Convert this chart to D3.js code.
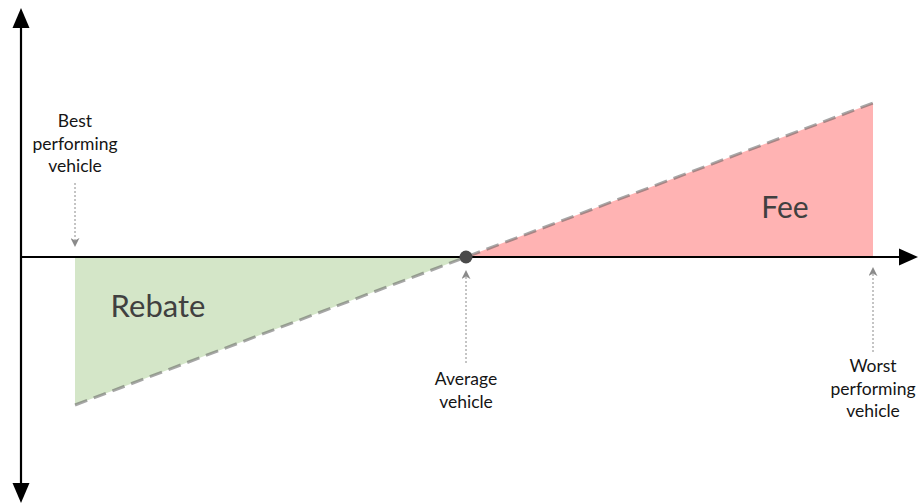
<!DOCTYPE html>
<html>
<head>
<meta charset="utf-8">
<script src="https://cdn.jsdelivr.net/npm/d3@7"></script>
<style>
  html, body { margin: 0; padding: 0; background: #fff; }
  svg { display: block; }
  text { font-family: Lato, "Open Sans", sans-serif; }
</style>
</head>
<body>
<svg id="chart" width="920" height="504"></svg>
<script>
// Vehicle performance relative to the fleet average, and the resulting charge
const vehicles = ["Best performing vehicle", "Average vehicle", "Worst performing vehicle"];
const performance = [-3.91, 0, 4.07];   // deviation from average
const charge = [-1.48, 0, 1.54];        // rebate (negative) / fee (positive)
const areaLabels = ["Rebate", "Fee"];

const svg = d3.select("#chart");
const x = d3.scaleLinear().domain([-4.45, 4.52]).range([21, 918]);
const y = d3.scaleLinear().domain([-2.46, 2.49]).range([503, 8]);

const defs = svg.append("defs");
defs.append("marker").attr("id", "pointerHead")
  .attr("viewBox", "0 0 10 10").attr("refX", 9).attr("refY", 5)
  .attr("markerWidth", 9).attr("markerHeight", 9).attr("markerUnits", "userSpaceOnUse")
  .attr("orient", "auto")
  .append("path").attr("d", "M0,0 L10,5 L0,10 L3,5 Z").attr("fill", "#8a8a8a");

const pts = performance.map((p, i) => [p, charge[i]]);

// Rebate and fee regions
const poly = d3.line().x(d => x(d[0])).y(d => y(d[1]));
svg.append("path")
  .attr("d", poly([[pts[0][0], 0], pts[0], pts[1]]) + "Z")
  .attr("fill", "#d4e6c8");
svg.append("path")
  .attr("d", poly([pts[1], pts[2], [pts[2][0], 0]]) + "Z")
  .attr("fill", "#ffb3b3");

// Axes with arrowheads
const [x0, x1] = x.domain();
const [y0, y1] = y.domain();
svg.append("line")
  .attr("x1", x(x0)).attr("x2", x(x0)).attr("y1", y(y0) - 17).attr("y2", y(y1) + 17)
  .attr("stroke", "#000").attr("stroke-width", 2.2);
[[y(y1) + 20, y(y1)], [y(y0) - 20, y(y0)]].forEach(([b, t]) => {
  svg.append("path")
    .attr("d", `M${x(x0)},${t} L${x(x0) - 8.5},${b} L${x(x0) + 8.5},${b} Z`)
    .attr("fill", "#000");
});
svg.append("line")
  .attr("x1", x(x0)).attr("x2", x(x1) - 17).attr("y1", y(0)).attr("y2", y(0))
  .attr("stroke", "#000").attr("stroke-width", 2.2);
svg.append("path")
  .attr("d", `M${x(x1)},${y(0)} L${x(x1) - 19},${y(0) - 8.5} L${x(x1) - 19},${y(0) + 8.5} Z`)
  .attr("fill", "#000");

// Charge line
svg.append("path")
  .attr("d", poly([pts[0], pts[2]]))
  .attr("fill", "none")
  .attr("stroke", "rgba(95,95,95,0.55)")
  .attr("stroke-width", 3)
  .attr("stroke-dasharray", "13,7");

// Average point
svg.append("circle")
  .attr("cx", x(pts[1][0])).attr("cy", y(pts[1][1])).attr("r", 6.5)
  .attr("fill", "#4a4a4a");

// Pointer arrows
const pointers = [
  { from: 183, to: 246 },
  { from: 363, to: 271 },
  { from: 352, to: 268 }
];
pointers.forEach((p, i) => {
  svg.append("line")
    .attr("x1", x(performance[i])).attr("x2", x(performance[i]))
    .attr("y1", p.from).attr("y2", p.to)
    .attr("stroke", "#8a8a8a").attr("stroke-width", 1)
    .attr("stroke-dasharray", "2,2")
    .attr("marker-end", "url(#pointerHead)");
});

// Vehicle labels
const labelLines = [
  { lines: ["Best", "performing", "vehicle"], y0: 127 },
  { lines: ["Average", "vehicle"], y0: 385 },
  { lines: ["Worst", "performing", "vehicle"], y0: 372 }
];
labelLines.forEach((l, i) => {
  const t = svg.append("text")
    .attr("x", x(performance[i])).attr("y", l.y0)
    .attr("text-anchor", "middle")
    .attr("font-size", 17.5).attr("fill", "#151515");
  l.lines.forEach((s, j) => {
    t.append("tspan").attr("x", x(performance[i])).attr("dy", j === 0 ? 0 : 22.5).text(s);
  });
});

// Area labels
svg.append("text").attr("x", 158).attr("y", 317)
  .attr("text-anchor", "middle").attr("font-size", 31).attr("fill", "#404040")
  .text(areaLabels[0]);
svg.append("text").attr("x", 785).attr("y", 218)
  .attr("text-anchor", "middle").attr("font-size", 30).attr("fill", "#404040")
  .text(areaLabels[1]);
</script>
</body>
</html>
